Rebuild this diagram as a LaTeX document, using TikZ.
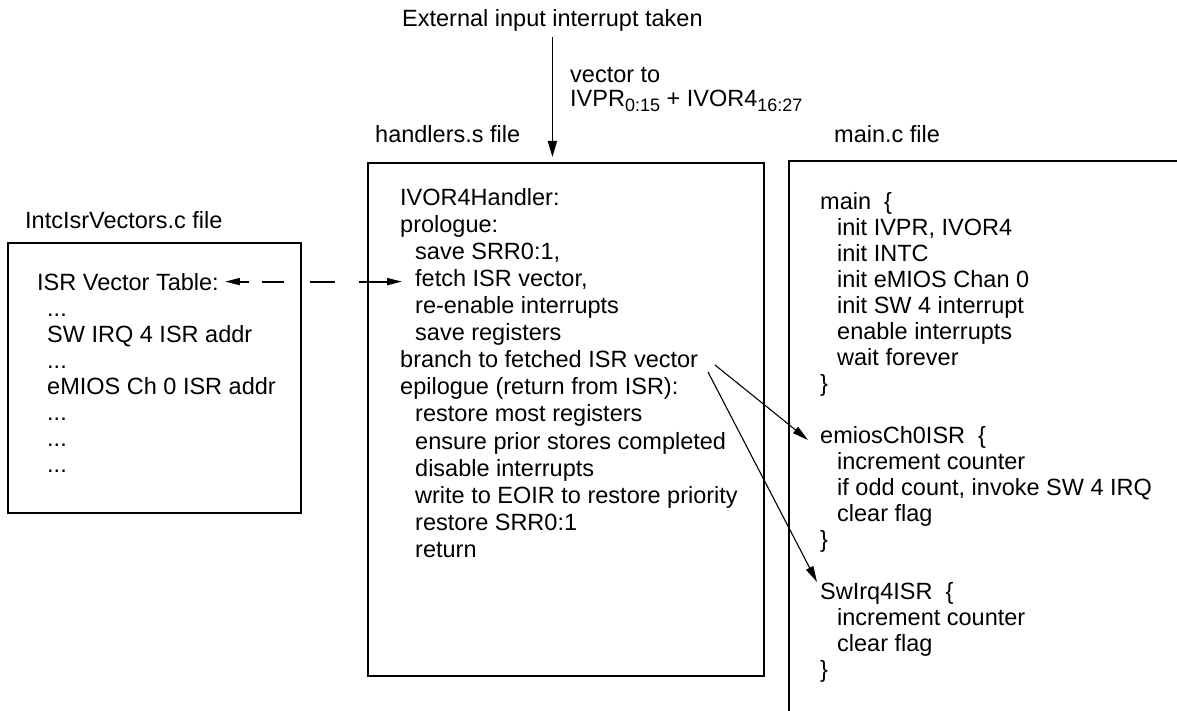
\documentclass[tikz,border=0pt]{standalone}
\usepackage{fontspec}
\setmainfont{Liberation Sans}
\usetikzlibrary{arrows.meta}
\newcommand\myind{\hspace*{15pt}}
\newcommand\rind{\hspace*{17pt}}
\newcommand\lowsub[1]{\raisebox{-5pt}{\fontsize{18}{20}\selectfont #1}}
\begin{document}
\begin{tikzpicture}[x=1pt,y=-1pt,
  lbl/.style={font=\fontsize{23.5}{26}\selectfont, inner sep=0pt, anchor=base west},
  code/.style={align=left, inner sep=0pt, anchor=north west},
  midfont/.style={font=\fontsize{23.5}{27.1}\selectfont},
  sidefont/.style={font=\fontsize{23.5}{26}\selectfont},
  frame/.style={draw, line width=2.2pt, inner sep=0pt, anchor=north west},
  thin arrow/.style={-{Triangle[length=16pt,width=8pt]}, line width=1.1pt},
  main arrow/.style={-{Triangle[length=16pt,width=9pt]}, line width=1.8pt},
  link arrow/.style={{Triangle[length=15pt,width=7pt]}-{Triangle[length=15pt,width=7pt]},
                     line width=1.8pt,
                     dash pattern=on 9pt off 13pt on 22pt off 26pt on 25pt off 24pt on 40pt},
]
\useasboundingbox (0,0) rectangle (1177,711);

% headings
\node[lbl] (title) at (402,27) {External input interrupt taken};
\node[code, font=\fontsize{23.5}{24}\selectfont] (veclbl) at (570,65.2)
  {\strut vector to\\ IVPR\lowsub{0:15} + IVOR4\lowsub{16:27}};
\node[lbl] (vlbl) at (25,229) {IntcIsrVectors.c file};
\node[lbl] (hlbl) at (375,143) {handlers.s file};
\node[lbl] (mlbl) at (834,143) {main.c file};

% file frames
\node[frame, minimum width=293pt, minimum height=270pt] (vbox) at (7,242) {};
\node[frame, minimum width=396pt, minimum height=513pt] (hbox) at (367,162) {};
\draw[line width=2.2pt] (1177,161) coordinate (rtop) -- (789,161) coordinate (rcorner)
  -- (789,711) coordinate (rfoot);

% vector table
\node[lbl] (tbl) at (37,290) {ISR Vector Table:};
\node[code, sidefont] (tbllist) at (47,297.8)
  {\strut ...\\ SW IRQ 4 ISR addr\\ ...\\ eMIOS Ch 0 ISR addr\\ ...\\ ...\\ ...};

% handler
\node[code, midfont] (handler) at (400,186)
  {\strut IVOR4Handler:\\
   prologue:\\
   \myind save SRR0:1,\\
   \myind fetch ISR vector,\\
   \myind re-enable interrupts\\
   \myind save registers\\
   branch to fetched ISR vector\\
   epilogue (return from ISR):\\
   \myind restore most registers\\
   \myind ensure prior stores completed\\
   \myind disable interrupts\\
   \myind write to EOIR to restore priority\\
   \myind restore SRR0:1\\
   \myind return};

% main.c functions
\node[code, sidefont] (mainfn) at (820,190.8)
  {\strut main\ \ \{\\
   \rind init IVPR, IVOR4\\
   \rind init INTC\\
   \rind init eMIOS Chan 0\\
   \rind init SW 4 interrupt\\
   \rind enable interrupts\\
   \rind wait forever\\
   \}};
\node[code, sidefont] (emiosfn) at (820,424.8)
  {\strut emiosCh0ISR\ \ \{\\
   \rind increment counter\\
   \rind if odd count, invoke SW 4 IRQ\\
   \rind clear flag\\
   \}};
\node[code, sidefont] (swfn) at (820,580.8)
  {\strut SwIrq4ISR\ \ \{\\
   \rind increment counter\\
   \rind clear flag\\
   \}};

% connectors
\draw[main arrow, shorten <=5pt, shorten >=5pt] (title.south) -- (title.south |- hbox.north);
\coordinate (fetchpt) at (402,283);
\draw[link arrow] ([xshift=6pt]tbl.east) -- (fetchpt |- tbl.east);
\coordinate (brA) at (715,365);
\coordinate (brB) at (708,372);
\coordinate (emtip) at (808,440);
\coordinate (swtip) at (817,582);
\draw[thin arrow] (brA) -- (emtip);
\draw[thin arrow] (brB) -- (swtip);
\end{tikzpicture}
\end{document}
